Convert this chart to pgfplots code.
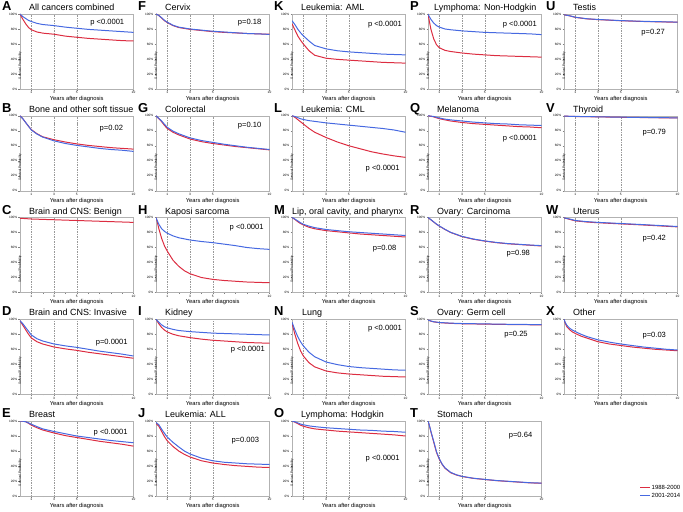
\documentclass[border=0pt]{standalone}
\usepackage{pgfplots}
\pgfplotsset{compat=1.18}
\usepackage{fontspec}
\setmainfont{Liberation Sans}

\definecolor{cred}{RGB}{220,45,65}
\definecolor{cblue}{RGB}{70,105,225}

\pgfplotsset{
  km/.style={
    scale only axis, width=113.5bp, height=75bp, anchor=north west,
    xmin=0, xmax=10, ymin=0, ymax=1,
    axis line style={black!30, line width=0.35pt},
    xtick={1,3,5,10}, minor xtick={2,4,6,7,8,9},
    ytick={0,0.2,0.4,0.6,0.8,1},
    yticklabels={0\%,20\%,40\%,60\%,80\%,100\%},
    xtick pos=left, ytick pos=left, tick align=outside,
    major tick length=1.5bp, minor tick length=1bp,
    tick style={black!50, line width=0.3pt},
    xmajorgrids, major x grid style={black!40, line width=0.35pt, dash pattern=on 1.5pt off 1pt},
    /pgf/number format/assume math mode=true,
    ticklabel style={font=\fontsize{3.2}{3.5}\selectfont, inner sep=1bp},
    xlabel={Years after diagnosis},
    xlabel style={font=\fontsize{5.8}{6}\selectfont, at={(axis description cs:0.5,0)}, anchor=center, yshift=-10bp},
    ylabel={Survival Probability},
    ylabel style={font=\fontsize{3.2}{3.5}\selectfont, at={(axis description cs:0,0.5)}, anchor=center, xshift=-14bp},
    every axis plot/.append style={line width=1pt, no marks},
  },
}
\tikzset{
  pval/.style={font=\fontsize{7.6}{8}\selectfont, anchor=east, inner sep=0pt},
  letter/.style={font=\fontsize{13}{13}\selectfont\bfseries, anchor=base west, inner sep=0pt},
  ttl/.style={font=\fontsize{9}{9}\selectfont, anchor=base west, inner sep=0pt},
}

% #1 left, #2 top, #3 letter, #4 title, #5 title x, #6 p text, #7 p position, #8 red, #9 blue
\newcommand{\panel}[9]{%
  \begin{axis}[km, at={(#1bp,-#2bp)}]
    \addplot[cred] coordinates {#8};
    \addplot[cblue] coordinates {#9};
    \node[pval] at (axis cs:#7) {#6};
  \end{axis}
  \node[letter] at ({#1bp-18bp},{-#2bp+3.5bp}) {#3};
  \node[ttl] at ({#5bp},{-#2bp+3.5bp}) {#4};
}

\begin{document}
\begin{tikzpicture}
\useasboundingbox (0,0) rectangle (683bp,-512bp);

% column 1
\panel{20}{14}{A}{All cancers combined}{29}{p <0.0001}{9.2,0.89}
 {(0,1) (0.1,0.97) (0.25,0.93) (0.5,0.87) (0.75,0.82) (1,0.79) (1.5,0.76) (2,0.745) (3,0.73) (4,0.705) (5,0.69) (6,0.675) (7,0.665) (8,0.655) (9,0.645) (10,0.64)}
 {(0,1) (0.1,0.985) (0.25,0.965) (0.5,0.94) (0.75,0.915) (1,0.90) (1.5,0.875) (2,0.86) (3,0.845) (4,0.825) (5,0.81) (6,0.795) (7,0.785) (8,0.775) (9,0.765) (10,0.755)}
\panel{20}{115.75}{B}{Bone and other soft tissue}{29}{p=0.02}{9.1,0.83}
 {(0,1) (0.25,0.96) (0.5,0.91) (0.75,0.86) (1,0.815) (1.5,0.76) (2,0.72) (3,0.68) (4,0.65) (5,0.625) (6,0.605) (7,0.59) (8,0.575) (9,0.565) (10,0.555)}
 {(0,1) (0.25,0.96) (0.5,0.91) (0.75,0.86) (1,0.81) (1.5,0.755) (2,0.715) (3,0.665) (4,0.63) (5,0.605) (6,0.585) (7,0.565) (8,0.55) (9,0.54) (10,0.525)}
\begin{axis}[km, at={(20bp,-217.5bp)}]
  \addplot[cred] coordinates {(0,0.99) (1,0.98) (3,0.97) (5,0.96) (7,0.95) (10,0.935)};
\end{axis}
\node[letter] at (2bp,-214bp) {C};
\node[ttl] at (29bp,-214bp) {Brain and CNS: Benign};
\panel{20}{319.25}{D}{Brain and CNS: Invasive}{29}{p=0.0001}{9.5,0.69}
 {(0,0.98) (0.25,0.92) (0.5,0.86) (0.75,0.80) (1,0.75) (1.5,0.70) (2,0.67) (3,0.63) (4,0.605) (5,0.585) (6,0.56) (7,0.54) (8,0.52) (9,0.50) (10,0.48)}
 {(0,0.98) (0.25,0.94) (0.5,0.89) (0.75,0.84) (1,0.79) (1.5,0.74) (2,0.71) (3,0.67) (4,0.645) (5,0.625) (6,0.60) (7,0.575) (8,0.555) (9,0.535) (10,0.51)}
\panel{20}{421}{E}{Breast}{29}{p <0.0001}{9.5,0.845}
 {(0,1) (0.25,0.998) (0.5,0.99) (0.75,0.97) (1,0.945) (1.5,0.91) (2,0.88) (3,0.84) (4,0.805) (5,0.78) (6,0.755) (7,0.73) (8,0.71) (9,0.69) (10,0.665)}
 {(0,1) (0.25,0.998) (0.5,0.99) (0.75,0.975) (1,0.957) (1.5,0.925) (2,0.895) (3,0.86) (4,0.83) (5,0.80) (6,0.78) (7,0.76) (8,0.74) (9,0.725) (10,0.71)}

% column 2
\panel{156}{14}{F}{Cervix}{165}{p=0.18}{9.3,0.88}
 {(0,1) (0.25,0.98) (0.5,0.945) (0.75,0.91) (1,0.885) (1.5,0.845) (2,0.82) (3,0.795) (4,0.78) (5,0.765) (6,0.755) (7,0.748) (8,0.74) (9,0.735) (10,0.73)}
 {(0,1) (0.25,0.98) (0.5,0.95) (0.75,0.915) (1,0.89) (1.5,0.85) (2,0.825) (3,0.80) (4,0.785) (5,0.77) (6,0.76) (7,0.75) (8,0.74) (9,0.735) (10,0.728)}
\panel{156}{115.75}{G}{Colorectal}{165}{p=0.10}{9.3,0.87}
 {(0,1) (0.25,0.96) (0.5,0.92) (0.75,0.87) (1,0.83) (1.5,0.78) (2,0.745) (3,0.69) (4,0.655) (5,0.63) (6,0.61) (7,0.59) (8,0.575) (9,0.56) (10,0.545)}
 {(0,1) (0.25,0.965) (0.5,0.93) (0.75,0.885) (1,0.845) (1.5,0.795) (2,0.76) (3,0.705) (4,0.67) (5,0.645) (6,0.62) (7,0.60) (8,0.58) (9,0.565) (10,0.55)}
\panel{156}{217.5}{H}{Kaposi sarcoma}{165}{p <0.0001}{9.5,0.87}
 {(0,1) (0.1,0.95) (0.25,0.85) (0.5,0.72) (0.75,0.62) (1,0.55) (1.5,0.43) (2,0.35) (2.5,0.29) (3,0.25) (4,0.20) (5,0.175) (6,0.16) (7,0.15) (8,0.14) (9,0.135) (10,0.13)}
 {(0,1) (0.1,0.96) (0.25,0.91) (0.5,0.85) (0.75,0.815) (1,0.79) (1.5,0.755) (2,0.73) (3,0.70) (4,0.68) (5,0.665) (6,0.645) (7,0.625) (8,0.60) (9,0.585) (10,0.575)}
\panel{156}{319.25}{I}{Kidney}{165}{p <0.0001}{9.6,0.6}
 {(0,1) (0.25,0.94) (0.5,0.89) (0.75,0.855) (1,0.83) (1.5,0.80) (2,0.78) (3,0.755) (4,0.735) (5,0.72) (6,0.71) (7,0.70) (8,0.69) (9,0.685) (10,0.68)}
 {(0,1) (0.25,0.96) (0.5,0.925) (0.75,0.90) (1,0.885) (1.5,0.865) (2,0.85) (3,0.835) (4,0.825) (5,0.815) (6,0.81) (7,0.805) (8,0.80) (9,0.795) (10,0.79)}
\panel{156}{421}{J}{Leukemia: ALL}{165}{p=0.003}{9.1,0.74}
 {(0,0.97) (0.25,0.93) (0.5,0.86) (0.75,0.79) (1,0.735) (1.5,0.66) (2,0.60) (2.5,0.555) (3,0.52) (4,0.47) (5,0.44) (6,0.42) (7,0.405) (8,0.395) (9,0.385) (10,0.38)}
 {(0,0.98) (0.25,0.95) (0.5,0.89) (0.75,0.835) (1,0.785) (1.5,0.715) (2,0.655) (2.5,0.60) (3,0.56) (4,0.505) (5,0.47) (6,0.45) (7,0.44) (8,0.43) (9,0.425) (10,0.42)}

% column 3
\panel{292}{14}{K}{Leukemia: AML}{301}{p <0.0001}{9.7,0.86}
 {(0,0.87) (0.25,0.79) (0.5,0.71) (0.75,0.65) (1,0.60) (1.5,0.51) (2,0.45) (3,0.41) (4,0.395) (5,0.385) (6,0.375) (7,0.365) (8,0.355) (9,0.35) (10,0.345)}
 {(0,0.91) (0.25,0.86) (0.5,0.80) (0.75,0.75) (1,0.71) (1.5,0.64) (2,0.58) (3,0.535) (4,0.51) (5,0.495) (6,0.485) (7,0.475) (8,0.465) (9,0.46) (10,0.455)}
\panel{292}{115.75}{L}{Leukemia: CML}{301}{p <0.0001}{9.5,0.3}
 {(0,1) (0.25,0.98) (0.5,0.95) (0.75,0.92) (1,0.89) (1.5,0.83) (2,0.78) (3,0.71) (4,0.65) (5,0.60) (6,0.56) (7,0.52) (8,0.49) (9,0.465) (10,0.445)}
 {(0,1) (0.25,0.99) (0.5,0.975) (0.75,0.96) (1,0.95) (1.5,0.935) (2,0.925) (3,0.905) (4,0.89) (5,0.875) (6,0.86) (7,0.845) (8,0.83) (9,0.81) (10,0.78)}
\panel{292}{217.5}{M}{Lip, oral cavity, and pharynx}{292}{p=0.08}{9.2,0.58}
 {(0,1) (0.25,0.975) (0.5,0.945) (0.75,0.92) (1,0.90) (1.5,0.87) (2,0.85) (3,0.825) (4,0.81) (5,0.795) (6,0.78) (7,0.77) (8,0.76) (9,0.75) (10,0.74)}
 {(0,1) (0.25,0.98) (0.5,0.955) (0.75,0.93) (1,0.91) (1.5,0.885) (2,0.865) (3,0.84) (4,0.825) (5,0.81) (6,0.80) (7,0.79) (8,0.78) (9,0.77) (10,0.76)}
\panel{292}{319.25}{N}{Lung}{302}{p <0.0001}{9.7,0.88}
 {(0,0.95) (0.25,0.80) (0.5,0.68) (0.75,0.58) (1,0.51) (1.5,0.42) (2,0.365) (3,0.31) (4,0.285) (5,0.27) (6,0.26) (7,0.25) (8,0.24) (9,0.235) (10,0.23)}
 {(0,0.96) (0.25,0.86) (0.5,0.77) (0.75,0.70) (1,0.645) (1.5,0.56) (2,0.50) (3,0.43) (4,0.395) (5,0.37) (6,0.355) (7,0.345) (8,0.335) (9,0.325) (10,0.32)}
\panel{292}{421}{O}{Lymphoma: Hodgkin}{301}{p <0.0001}{9.5,0.5}
 {(0,1) (0.25,0.985) (0.5,0.965) (0.75,0.945) (1,0.93) (1.5,0.91) (2,0.895) (3,0.88) (4,0.865) (5,0.855) (6,0.845) (7,0.835) (8,0.825) (9,0.815) (10,0.80)}
 {(0,1) (0.25,0.99) (0.5,0.975) (0.75,0.96) (1,0.95) (1.5,0.935) (2,0.925) (3,0.91) (4,0.90) (5,0.89) (6,0.88) (7,0.875) (8,0.865) (9,0.86) (10,0.85)}

% column 4
\panel{428}{14}{P}{Lymphoma: Non-Hodgkin}{434}{p <0.0001}{9.6,0.86}
 {(0,1) (0.1,0.92) (0.25,0.80) (0.5,0.67) (0.75,0.59) (1,0.55) (1.5,0.515) (2,0.50) (3,0.48) (4,0.465) (5,0.455) (6,0.445) (7,0.44) (8,0.435) (9,0.43) (10,0.425)}
 {(0,1) (0.1,0.97) (0.25,0.93) (0.5,0.88) (0.75,0.845) (1,0.825) (1.5,0.80) (2,0.79) (3,0.775) (4,0.765) (5,0.755) (6,0.75) (7,0.745) (8,0.74) (9,0.735) (10,0.725)}
\panel{428}{115.75}{Q}{Melanoma}{437}{p <0.0001}{9.6,0.7}
 {(0,1) (0.5,0.985) (1,0.96) (1.5,0.945) (2,0.93) (3,0.91) (4,0.895) (5,0.885) (6,0.875) (7,0.865) (8,0.855) (9,0.85) (10,0.84)}
 {(0,1) (0.5,0.99) (1,0.97) (1.5,0.955) (2,0.945) (3,0.93) (4,0.915) (5,0.905) (6,0.895) (7,0.89) (8,0.88) (9,0.875) (10,0.87)}
\panel{428}{217.5}{R}{Ovary: Carcinoma}{437}{p=0.98}{9.0,0.52}
 {(0,1) (0.25,0.97) (0.5,0.94) (0.75,0.91) (1,0.885) (1.5,0.84) (2,0.80) (3,0.745) (4,0.71) (5,0.685) (6,0.665) (7,0.65) (8,0.64) (9,0.63) (10,0.62)}
 {(0,1) (0.25,0.972) (0.5,0.942) (0.75,0.912) (1,0.887) (1.5,0.842) (2,0.802) (3,0.748) (4,0.713) (5,0.688) (6,0.668) (7,0.653) (8,0.643) (9,0.633) (10,0.625)}
\panel{428}{319.25}{S}{Ovary: Germ cell}{437}{p=0.25}{8.8,0.8}
 {(0,0.99) (0.25,0.975) (0.5,0.965) (1,0.955) (2,0.945) (3,0.94) (5,0.935) (7,0.93) (10,0.925)}
 {(0,0.99) (0.25,0.977) (0.5,0.967) (1,0.957) (2,0.948) (3,0.943) (5,0.938) (7,0.933) (10,0.928)}
\panel{428}{421}{T}{Stomach}{437}{p=0.64}{9.2,0.8}
 {(0,1) (0.1,0.95) (0.25,0.86) (0.5,0.72) (0.75,0.58) (1,0.49) (1.25,0.42) (1.5,0.37) (2,0.31) (2.5,0.28) (3,0.26) (4,0.235) (5,0.22) (6,0.205) (7,0.195) (8,0.185) (9,0.175) (10,0.17)}
 {(0,1) (0.1,0.955) (0.25,0.865) (0.5,0.73) (0.75,0.59) (1,0.495) (1.25,0.425) (1.5,0.375) (2,0.315) (2.5,0.283) (3,0.262) (4,0.237) (5,0.222) (6,0.207) (7,0.197) (8,0.187) (9,0.177) (10,0.172)}

% column 5
\panel{564}{14}{U}{Testis}{573}{p=0.27}{8.9,0.75}
 {(0,0.99) (0.5,0.975) (1,0.955) (2,0.935) (3,0.925) (5,0.91) (7,0.90) (10,0.89)}
 {(0,0.99) (0.5,0.976) (1,0.957) (2,0.937) (3,0.927) (5,0.912) (7,0.902) (10,0.892)}
\panel{564}{115.75}{V}{Thyroid}{573}{p=0.79}{9.0,0.77}
 {(0,0.995) (1,0.99) (3,0.985) (5,0.98) (10,0.97)}
 {(0,0.995) (1,0.991) (3,0.986) (5,0.981) (10,0.972)}
\panel{564}{217.5}{W}{Uterus}{573}{p=0.42}{9.0,0.72}
 {(0,0.995) (0.5,0.975) (1,0.955) (2,0.94) (3,0.93) (5,0.915) (7,0.90) (10,0.875)}
 {(0,0.995) (0.5,0.98) (1,0.96) (2,0.945) (3,0.935) (5,0.92) (7,0.905) (10,0.88)}
\panel{564}{319.25}{X}{Other}{573}{p=0.03}{9.0,0.78}
 {(0,1) (0.1,0.95) (0.25,0.90) (0.5,0.86) (0.75,0.83) (1,0.81) (1.5,0.775) (2,0.75) (3,0.70) (4,0.67) (5,0.65) (6,0.63) (7,0.615) (8,0.60) (9,0.59) (10,0.58)}
 {(0,1) (0.1,0.96) (0.25,0.92) (0.5,0.88) (0.75,0.855) (1,0.835) (1.5,0.80) (2,0.77) (3,0.725) (4,0.695) (5,0.67) (6,0.65) (7,0.63) (8,0.615) (9,0.60) (10,0.59)}

% legend
\draw[cred, line width=1pt] (640bp,-487bp) -- (650bp,-487bp);
\node[anchor=west, inner sep=0pt, font=\fontsize{6}{6}\selectfont] at (651.5bp,-487bp) {1988-2000};
\draw[cblue, line width=1pt] (640bp,-495bp) -- (650bp,-495bp);
\node[anchor=west, inner sep=0pt, font=\fontsize{6}{6}\selectfont] at (651.5bp,-495bp) {2001-2014};
\end{tikzpicture}
\end{document}
